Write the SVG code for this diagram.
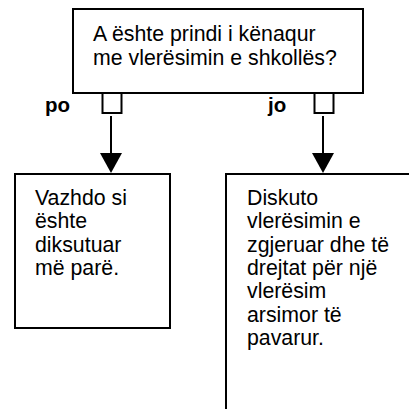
<svg xmlns="http://www.w3.org/2000/svg" width="409" height="409" viewBox="0 0 409 409">
<style>
.box{fill:#fff;stroke:#000;stroke-width:2}
.t{font-family:"Liberation Sans",Arial,sans-serif;font-size:21.3px;fill:#000}
.lbl{font-family:"Liberation Sans",Arial,sans-serif;font-size:20.5px;font-weight:bold;fill:#000}
.ln{stroke:#000;stroke-width:2;fill:none}
.ah{fill:#000}
</style>
<rect width="409" height="409" fill="#fff"/>
<g id="q">
<rect class="box" x="73" y="9" width="290" height="84"/>
<text class="t" x="93" y="40.5">A ështe prindi i kënaqur</text>
<text class="t" x="93" y="64.5">me vlerësimin e shkollës?</text>
</g>
<g id="po-port">
<rect class="box" x="102.5" y="93" width="19" height="20"/>
<text class="lbl" x="45" y="111.5">po</text>
</g>
<g id="jo-port">
<rect class="box" x="314.5" y="93" width="19" height="20"/>
<text class="lbl" x="268" y="111.5">jo</text>
</g>
<g id="connectors">
<line class="ln" x1="111" y1="116" x2="111" y2="154"/>
<path class="ah" d="M100,153 L122,153 L111,173 Z"/>
<line class="ln" x1="323" y1="116" x2="323" y2="154"/>
<path class="ah" d="M312,153 L334,153 L323,173 Z"/>
</g>
<g id="po-box">
<rect class="box" x="15" y="174" width="155" height="154"/>
<text class="t" x="35" y="205">Vazhdo si</text>
<text class="t" x="35" y="228.3">ështe</text>
<text class="t" x="35" y="251.6">diksutuar</text>
<text class="t" x="35" y="275">më parë.</text>
</g>
<g id="jo-box">
<rect class="box" x="226" y="174" width="200" height="260"/>
<text class="t" x="247" y="205">Diskuto</text>
<text class="t" x="247" y="228.3">vlerësimin e</text>
<text class="t" x="247" y="251.6">zgjeruar dhe të</text>
<text class="t" x="247" y="275">drejtat për një</text>
<text class="t" x="247" y="298.3">vlerësim</text>
<text class="t" x="247" y="321.6">arsimor të</text>
<text class="t" x="247" y="345">pavarur.</text>
</g>
</svg>
